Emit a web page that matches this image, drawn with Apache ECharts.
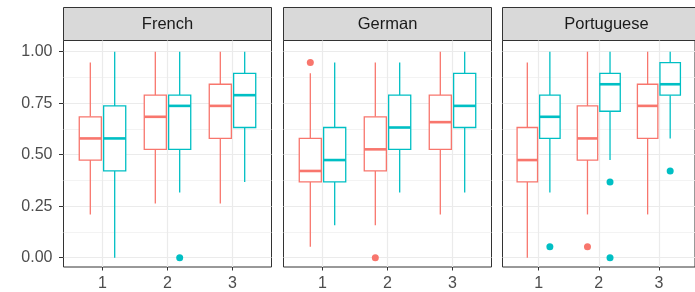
<!DOCTYPE html>
<html>
<head>
<meta charset="utf-8">
<script src="https://cdn.jsdelivr.net/npm/echarts@6/dist/echarts.min.js"></script>
<style>
html, body { margin: 0; padding: 0; background: #fff; }
#chart { width: 695px; height: 292px; }
</style>
</head>
<body>
<div id="chart"></div>
<script>
// facets and x groups
var languages = ['French', 'German', 'Portuguese'];
var groups = [1, 2, 3];

// box stats per group: [lower whisker, q1, median, q3, upper whisker]
var frenchRed      = [[0.21, 0.474, 0.579, 0.684, 0.947], [0.263, 0.526, 0.684, 0.789, 1], [0.263, 0.579, 0.737, 0.842, 1]];
var frenchTeal     = [[0, 0.421, 0.579, 0.737, 1], [0.316, 0.526, 0.737, 0.789, 1], [0.368, 0.632, 0.789, 0.895, 1]];
var germanRed      = [[0.053, 0.368, 0.421, 0.579, 0.895], [0.158, 0.421, 0.526, 0.684, 0.947], [0.21, 0.526, 0.658, 0.789, 1]];
var germanTeal     = [[0.158, 0.368, 0.474, 0.632, 0.947], [0.316, 0.526, 0.632, 0.789, 0.947], [0.316, 0.632, 0.737, 0.895, 1]];
var portugueseRed  = [[0, 0.368, 0.474, 0.632, 0.947], [0.21, 0.474, 0.579, 0.737, 1], [0.21, 0.579, 0.737, 0.842, 1]];
var portugueseTeal = [[0.316, 0.579, 0.684, 0.789, 1], [0.474, 0.711, 0.842, 0.895, 1], [0.579, 0.789, 0.842, 0.947, 1]];

// outliers: [group, value]
var frenchRedOut      = [];
var frenchTealOut     = [[2, 0]];
var germanRedOut      = [[1, 0.947], [2, 0]];
var germanTealOut     = [];
var portugueseRedOut  = [[2, 0.053]];
var portugueseTealOut = [[1, 0.053], [2, 0.368], [2, 0], [3, 0.421]];

var RED = '#F8766D', TEAL = '#00BFC4';
var FONT = 'Liberation Sans, Arial, sans-serif';
var panelLeft = [63.5, 283.5, 502.5];
var PW = 208;
var DODGE = 0.1875, BOXW = 0.34;

var stats = [[frenchRed, frenchTeal], [germanRed, germanTeal], [portugueseRed, portugueseTeal]];
var outs = [[frenchRedOut, frenchTealOut], [germanRedOut, germanTealOut], [portugueseRedOut, portugueseTealOut]];
var colors = [RED, TEAL];
var offsets = [-DODGE, DODGE];

function renderBox(color) {
  return function (params, api) {
    var x = api.value(0);
    var tl = api.coord([x - BOXW / 2, api.value(4)]);
    var br = api.coord([x + BOXW / 2, api.value(2)]);
    var md = api.coord([x, api.value(3)]);
    var hi = api.coord([x, api.value(5)]);
    var lo = api.coord([x, api.value(1)]);
    var ls = { stroke: color, lineWidth: 1.3 };
    return {
      type: 'group',
      children: [
        { type: 'line', shape: { x1: hi[0], y1: hi[1], x2: hi[0], y2: tl[1] }, style: ls },
        { type: 'line', shape: { x1: lo[0], y1: lo[1], x2: lo[0], y2: br[1] }, style: ls },
        { type: 'rect', shape: { x: tl[0], y: tl[1], width: br[0] - tl[0], height: br[1] - tl[1] },
          style: { fill: '#fff', stroke: color, lineWidth: 1.3 } },
        { type: 'line', shape: { x1: tl[0], y1: md[1], x2: br[0], y2: md[1] },
          style: { stroke: color, lineWidth: 2.6 } }
      ]
    };
  };
}

var grid = [], xAxis = [], yAxis = [], series = [], graphic = [];

languages.forEach(function (lang, i) {
  var L = panelLeft[i];
  // outer panel: border + vertical grid + x ticks
  grid.push({ left: L, top: 40.5, width: PW, height: 227, show: true,
    borderColor: '#333', borderWidth: 1, backgroundColor: '#fff' });
  // inner panel: data range 0..1
  grid.push({ left: L, top: 51.7, width: PW, height: 206, show: false });

  xAxis.push({
    gridIndex: 2 * i, type: 'value', min: 0.4, max: 3.6, position: 'bottom',
    axisLine: { show: false },
    axisTick: { show: true, customValues: groups, length: 3.5, lineStyle: { color: '#333', width: 1 } },
    axisLabel: { show: true, customValues: groups, color: '#4D4D4D', fontSize: 16, fontFamily: FONT, margin: 9 },
    splitLine: { show: true, lineStyle: { color: '#EBEBEB', width: 1.2 } }
  });
  xAxis.push({ gridIndex: 2 * i + 1, type: 'value', min: 0.4, max: 3.6, show: false });

  yAxis.push({ gridIndex: 2 * i, type: 'value', min: 0, max: 1, show: false });
  yAxis.push({
    gridIndex: 2 * i + 1, type: 'value', min: 0, max: 1, interval: 0.25,
    axisLine: { show: false },
    axisTick: { show: i === 0, length: 4.5, lineStyle: { color: '#333', width: 1 } },
    axisLabel: { show: i === 0, color: '#4D4D4D', fontSize: 16, fontFamily: FONT, margin: 11,
      formatter: function (v) { return v.toFixed(2); } },
    splitLine: { show: true, lineStyle: { color: '#EBEBEB', width: 1.2 } },
    minorTick: { show: false, splitNumber: 2 },
    minorSplitLine: { show: true, lineStyle: { color: '#F0F0F0', width: 0.8 } }
  });

  for (var k = 0; k < 2; k++) {
    var boxData = stats[i][k].map(function (s, g) {
      return [groups[g] + offsets[k]].concat(s);
    });
    series.push({
      type: 'custom', xAxisIndex: 2 * i + 1, yAxisIndex: 2 * i + 1,
      renderItem: renderBox(colors[k]),
      encode: { x: 0, y: [1, 2, 3, 4, 5] },
      data: boxData, silent: true, z: 3
    });
    var off = offsets[k];
    series.push({
      type: 'scatter', xAxisIndex: 2 * i + 1, yAxisIndex: 2 * i + 1,
      symbol: 'circle', symbolSize: 7,
      itemStyle: { color: colors[k], opacity: 1 },
      data: outs[i][k].map(function (o) { return [o[0] + off, o[1]]; }),
      silent: true, z: 4
    });
  }

  graphic.push({
    type: 'rect', shape: { x: L, y: 7.5, width: PW, height: 33 },
    style: { fill: '#D9D9D9', stroke: '#333', lineWidth: 1 }
  });
  graphic.push({
    type: 'text', x: L + PW / 2, y: 24.5,
    style: { text: lang, fill: '#1A1A1A', font: '16.5px ' + FONT, align: 'center', verticalAlign: 'middle' }
  });
});

var chart = echarts.init(document.getElementById('chart'), null, { renderer: 'canvas' });
chart.setOption({
  animation: false,
  backgroundColor: '#fff',
  grid: grid,
  xAxis: xAxis,
  yAxis: yAxis,
  series: series,
  graphic: graphic
});
</script>
</body>
</html>
